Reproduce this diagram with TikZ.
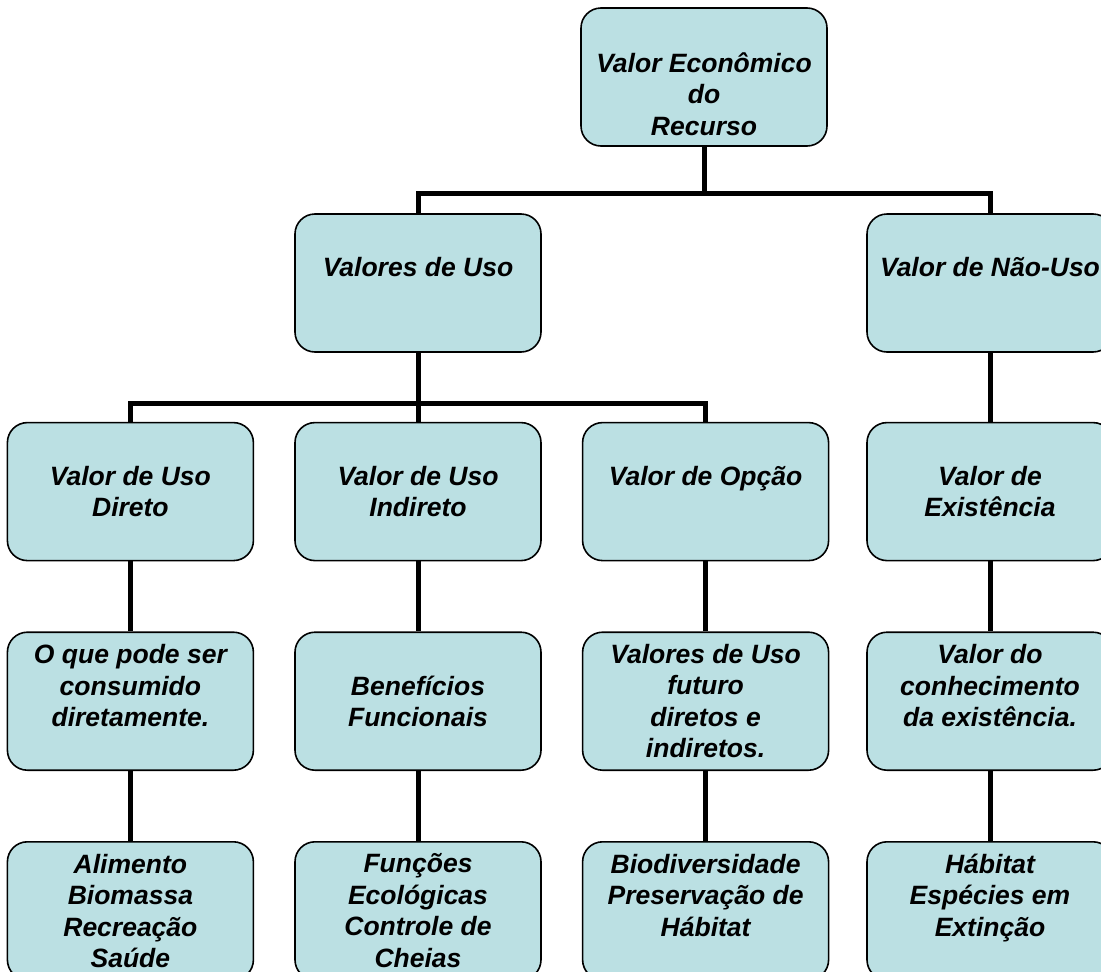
\documentclass[tikz,border=0pt]{standalone}
\usepackage{fontspec}
\setmainfont{Liberation Sans}
\usetikzlibrary{positioning}
\definecolor{azulclaro}{RGB}{187,224,227}

\begin{document}
\begin{tikzpicture}[x=1pt,y=-1pt,
         valor/.style = {draw, line width=1.6pt, rounded corners=20pt,
         fill=azulclaro, minimum width=246pt, minimum height=138pt,
         inner sep=0pt, align=center,
         font=\fontsize{26.5}{31.5}\selectfont\bfseries\itshape},
         ligacao/.style = {line width=5pt}]

      \useasboundingbox (0,0) rectangle (1101,972);

      % topo
      \node[valor] (rec)  at (704,77)  {\strut\\Valor Econômico\\do\\Recurso};

      % uso / nao uso
      \node[valor] (uso)  at (418,283) {Valores de Uso\\~};
      \node[valor] (nuso) at (990,283) {Valor de Não-Uso\\~};

      % tipos de valor
      \node[valor, below=69pt of uso]      (indireto) {Valor de Uso\\Indireto};
      \node[valor, left=40pt of indireto]  (direto)   {Valor de Uso\\Direto};
      \node[valor, right=40pt of indireto] (opcao)    {Valor de Opção\\~};
      \node[valor, below=69pt of nuso]     (exist)    {Valor de\\Existência};

      % descricao
      \node[valor, below=70pt of direto]   (consumo)   {O que pode ser\\consumido\\diretamente.\\~};
      \node[valor, below=70pt of indireto] (funcional) {Benefícios\\Funcionais};
      \node[valor, below=70pt of opcao]    (futuro)    {Valores de Uso\\futuro\\diretos e\\indiretos.};
      \node[valor, below=70pt of exist]    (conhec)    {Valor do\\conhecimento\\da existência.\\~};

      % exemplos
      \node[valor, below=70pt of consumo]   (alimento) {Alimento\\Biomassa\\Recreação\\Saúde};
      \node[valor, below=70pt of funcional] (funcoes)  {Funções\\Ecológicas\\Controle de\\Cheias};
      \node[valor, below=70pt of futuro]    (biodiv)   {Biodiversidade\\Preservação de\\Hábitat\\~};
      \node[valor, below=70pt of conhec]    (habitat)  {Hábitat\\Espécies em\\Extinção\\~};

      % ligacoes
      \draw[ligacao] (rec.south) -- ++(0,47) coordinate (j1);
      \draw[ligacao] (j1) -| (uso.north);
      \draw[ligacao] (j1) -| (nuso.north);

      \draw[ligacao] (uso.south) -- ++(0,51) coordinate (j2);
      \draw[ligacao] (j2) -| (direto.north);
      \draw[ligacao] (j2) -| (opcao.north);
      \draw[ligacao] (j2) -- (indireto.north);
      \draw[ligacao] (nuso) -- (exist);

      \draw[ligacao] (direto)   -- (consumo)   -- (alimento);
      \draw[ligacao] (indireto) -- (funcional) -- (funcoes);
      \draw[ligacao] (opcao)    -- (futuro)    -- (biodiv);
      \draw[ligacao] (exist)    -- (conhec)    -- (habitat);

   \end{tikzpicture}
\end{document}
